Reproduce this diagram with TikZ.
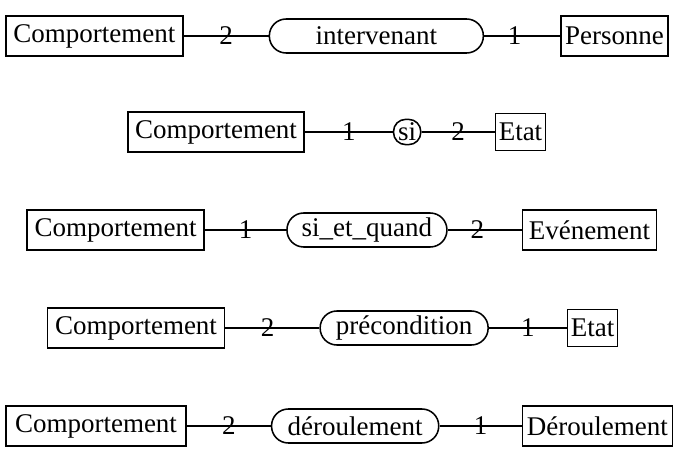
\documentclass[tikz,border=0pt]{standalone}
\usepackage{fontspec}
\setmainfont{Liberation Serif}
\usepackage{tikz}
\usetikzlibrary{positioning}

\begin{document}
\begin{tikzpicture}[
  font=\fontsize{19.2}{23}\selectfont,
  line width=1.1pt,
  ent/.style={draw, minimum height=1.0cm, inner sep=2pt},
  rel/.style={draw, minimum height=0.85cm, rounded corners=0.42cm, inner sep=2pt},
  card/.style={midway, inner sep=0pt},
]
\useasboundingbox (0,0) rectangle (16.825,-11.7);
% ---------- intervenant ----------
\node[ent,minimum width=4.43cm] (c1) at (2.36,-0.9){Comportement};
\node[rel,minimum width=5.35cm, right=2.12cm of c1] (r1){intervenant};
\node[ent,minimum width=2.68cm, right=1.9cm of r1] (p1){Personne};
\draw (c1) -- (r1) node[card]{2};
\draw (r1) -- (p1) node[card,pos=0.4]{1};
% ---------- si ----------
\node[ent,minimum width=4.4cm] (c2) at (5.4,-3.3){Comportement};
\node[rel,minimum width=0.68cm, minimum height=0.63cm, rounded corners=0.3cm,
  inner sep=0pt, right=2.2cm of c2] (r2){si};
\node[ent,minimum width=1.25cm, minimum height=0.93cm, right=1.83cm of r2] (e2){Etat};
\draw (c2) -- (r2) node[card]{1};
\draw (r2) -- (e2) node[card]{2};
% ---------- si_et_quand ----------
\node[ent,minimum width=4.43cm] (c3) at (2.89,-5.75){Comportement};
\node[rel,minimum width=4.0cm, right=2.03cm of c3] (r3){si\_et\_quand};
\node[ent,minimum width=3.35cm, right=1.85cm of r3] (e3){Evénement};
\draw (c3) -- (r3) node[card]{1};
\draw (r3) -- (e3) node[card,pos=0.4]{2};
% ---------- précondition ----------
\node[ent,minimum width=4.43cm] (c4) at (3.4,-8.2){Comportement};
\node[rel,minimum width=4.2cm, right=2.35cm of c4] (r4){précondition};
\node[ent,minimum width=1.25cm, minimum height=0.93cm, right=1.95cm of r4] (e4){Etat};
\draw (c4) -- (r4) node[card,pos=0.45]{2};
\draw (r4) -- (e4) node[card]{1};
% ---------- déroulement ----------
\node[ent,minimum width=4.5cm] (c5) at (2.4,-10.65){Comportement};
\node[rel,minimum width=4.18cm, right=2.1cm of c5] (r5){déroulement};
\node[ent,minimum width=3.75cm, right=2.05cm of r5] (d5){Déroulement};
\draw (c5) -- (r5) node[card]{2};
\draw (r5) -- (d5) node[card]{1};
\end{tikzpicture}
\end{document}
